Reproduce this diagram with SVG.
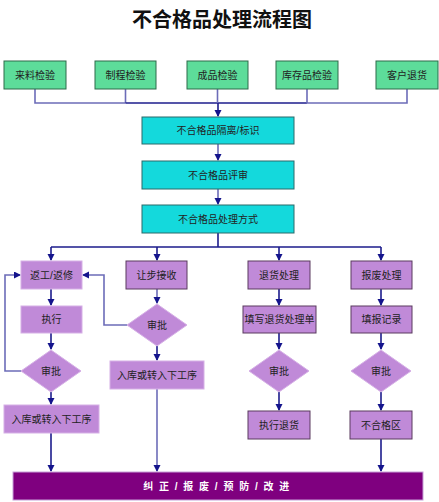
<svg xmlns="http://www.w3.org/2000/svg" width="439" height="502" viewBox="0 0 439 502">
<defs>
<marker id="ah" markerWidth="8" markerHeight="8" refX="6" refY="3.5" orient="auto" markerUnits="userSpaceOnUse">
<path d="M0,0 L7,3.5 L0,7 Z" fill="#14148c"/>
</marker>
<style>
text{font-family:"Liberation Sans","Noto Sans CJK SC",sans-serif;font-size:10px;fill:#222;text-anchor:middle;dominant-baseline:central}
.g{fill:#5ddc9a;stroke:#2f6a4a;stroke-width:1}
.c{fill:#14d9dc;stroke:#2a6a6a;stroke-width:1}
.p{fill:#c08ad8;stroke:#d6b0e6;stroke-width:1}
.pd{fill:#c08ad8;stroke:#5a3a5e;stroke-width:1}
.l{fill:none;stroke:#6c6cb8;stroke-width:1.6}
.d{fill:none;stroke:#1c1c8c;stroke-width:1.6}
.a{marker-end:url(#ah)}
</style>
</defs>
<rect width="439" height="502" fill="#fff"/>
<text id="title" x="222" y="20" style="font-size:20px;font-weight:bold;fill:#111">不合格品处理流程图</text>

<g id="connectors">
<path class="l" d="M35,89V103H125.5"/>
<path class="l" d="M125.5,89V103"/>
<path class="d" d="M125.5,103H307"/>
<path class="l" d="M307,89V103H407V89"/>
<path class="l" d="M217.5,89V103"/>
<path class="d a" d="M218,103V116"/>
<path class="l a" d="M218,144V160"/>
<path class="l a" d="M218,189V204"/>
<path class="d" d="M218,233V247M51,247H381"/>
<path class="d a" d="M51,247V260"/>
<path class="d a" d="M157,247V260"/>
<path class="d a" d="M279,247V260"/>
<path class="d a" d="M381,247V260"/>
<path class="d a" d="M51,289V305"/>
<path class="d a" d="M51,333V349"/>
<path class="l a" d="M21,371H5V275H20"/>
<path class="d a" d="M51,392V404"/>
<path class="d a" d="M51,433V471"/>
<path class="l a" d="M157,289V303"/>
<path class="l a" d="M127,325H104V275H83"/>
<path class="d a" d="M157,346V360"/>
<path class="l a" d="M157,389V471"/>
<path class="d a" d="M279,289V305"/>
<path class="d a" d="M279,333V349"/>
<path class="d a" d="M279,392V410"/>
<path class="d a" d="M381,289V305"/>
<path class="d a" d="M381,333V349"/>
<path class="d a" d="M381,392V410"/>
<path class="d a" d="M381,439V471"/>
</g>

<g id="n1"><rect class="g" x="4" y="61" width="62" height="28"/><text x="35" y="75">来料检验</text></g>
<g id="n2"><rect class="g" x="95" y="61" width="61" height="28"/><text x="125.5" y="75">制程检验</text></g>
<g id="n3"><rect class="g" x="187" y="61" width="61" height="28"/><text x="217.5" y="75">成品检验</text></g>
<g id="n4"><rect class="g" x="276" y="61" width="62" height="28"/><text x="307" y="75">库存品检验</text></g>
<g id="n5"><rect class="g" x="376" y="61" width="62" height="28"/><text x="407" y="75">客户退货</text></g>

<g id="c1"><rect class="c" x="142" y="117" width="152" height="27"/><text x="218" y="130.5">不合格品隔离/标识</text></g>
<g id="c2"><rect class="c" x="142" y="161" width="152" height="28"/><text x="218" y="175">不合格品评审</text></g>
<g id="c3"><rect class="c" x="142" y="205" width="152" height="28"/><text x="218" y="219">不合格品处理方式</text></g>

<g id="rework"><rect class="p" x="21" y="261" width="61" height="28"/><text x="51.5" y="275">返工/返修</text></g>
<g id="exec"><rect class="p" x="21" y="306" width="61" height="27"/><text x="51.5" y="319.5">执行</text></g>
<g id="dia1"><polygon class="p" points="51,350 81,371 51,392 21,371"/><text x="51" y="371">审批</text></g>
<g id="store1"><rect class="p" x="4" y="405" width="95" height="28"/><text x="51.5" y="419">入库或转入下工序</text></g>

<g id="concede"><rect class="pd" x="126" y="261" width="61" height="28"/><text x="156.5" y="275">让步接收</text></g>
<g id="dia2"><polygon class="p" points="157,304 187,325 157,346 127,325"/><text x="157" y="325">审批</text></g>
<g id="store2"><rect class="p" x="110" y="361" width="94" height="28"/><text x="157" y="375">入库或转入下工序</text></g>

<g id="ret"><rect class="pd" x="248" y="261" width="62" height="28"/><text x="279" y="275">退货处理</text></g>
<g id="retform"><rect class="pd" x="243" y="306" width="73" height="27"/><text x="279.5" y="319.5">填写退货处理单</text></g>
<g id="dia3"><polygon class="p" points="279,350 309,371 279,392 249,371"/><text x="279" y="371">审批</text></g>
<g id="retexec"><rect class="pd" x="248" y="411" width="62" height="28"/><text x="279" y="425">执行退货</text></g>

<g id="scrap"><rect class="pd" x="351" y="261" width="61" height="28"/><text x="381.5" y="275">报废处理</text></g>
<g id="scraprec"><rect class="pd" x="351" y="306" width="61" height="27"/><text x="381.5" y="319.5">填报记录</text></g>
<g id="dia4"><polygon class="p" points="381,350 411,371 381,392 351,371"/><text x="381" y="371">审批</text></g>
<g id="ncarea"><rect class="pd" x="350" y="411" width="62" height="28"/><text x="381" y="425">不合格区</text></g>

<g id="bar"><rect x="13" y="472" width="410" height="28" fill="#7f007f" stroke="#c8a0d8" stroke-width="1"/><text x="217" y="486" style="fill:#fff;font-weight:bold;letter-spacing:1.5px">纠 正 / 报 废 / 预 防 / 改 进</text></g>
</svg>
